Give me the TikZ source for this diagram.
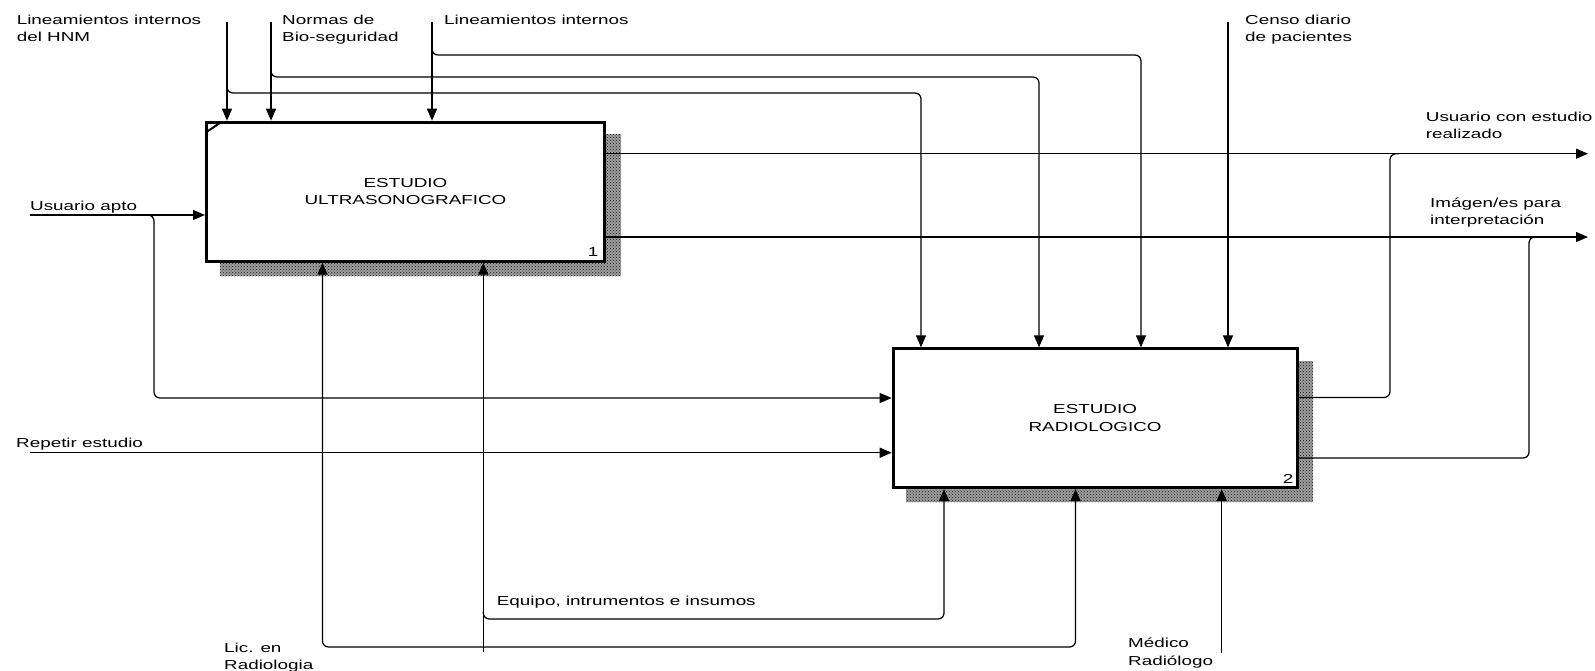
\documentclass[tikz,border=0pt]{standalone}
\usepackage{fontspec}
\setmainfont{Liberation Sans}[FakeStretch=1.45]
\usetikzlibrary{arrows.meta,patterns}
\begin{document}
\begin{tikzpicture}[x=1pt,y=-1pt,
  every node/.style={font=\fontsize{13}{17.5}\selectfont, inner sep=0pt},
  lbl/.style={anchor=north west, align=left},
  proc/.style={draw, line width=3pt, fill=white, rectangle, align=center},
  shadowbase/.style={fill=black!38},
  shadowfill/.style={pattern=crosshatch dots, pattern color=black!90},
  conn/.style={line width=1.25pt, rounded corners=6pt},
  tip/.style={-{Triangle[length=12pt,width=10pt]}},
  tips/.style={{Triangle[length=12pt,width=10pt]}-{Triangle[length=12pt,width=10pt]}}
]
\useasboundingbox (0,0) rectangle (1595,670);

% shadows
\fill[shadowbase] (220,134) rectangle (621,276);
\fill[shadowfill] (220,134) rectangle (621,276);
\fill[shadowbase] (906,361) rectangle (1313,502);
\fill[shadowfill] (906,361) rectangle (1313,502);

% boxes
\node[proc, minimum width=398pt, minimum height=139pt] (b1) at (405.5,191.7) {ESTUDIO\\ULTRASONOGRAFICO};
\node[proc, minimum width=403.8pt, minimum height=138.7pt] (b2) at (1095.1,418.2) {ESTUDIO\\RADIOLOGICO};
\node (n1) at (593,252.5) {1};
\node (n2) at (1288,479) {2};
\draw[line width=2pt] ([shift={(2,11)}]b1.north west) -- ([shift={(16,1.5)}]b1.north west);

% coordinates
\coordinate (c1) at (227,22);
\coordinate (c2) at (271,22);
\coordinate (c3) at (432,22);
\coordinate (c4) at (1228,22);
\coordinate (s1) at (227,85);
\coordinate (s2) at (271,69);
\coordinate (s3) at (432,47);
\coordinate (k1) at (921,93);
\coordinate (k2) at (1039,77);
\coordinate (k3) at (1141,55);
\coordinate (o1) at (1588,153.7);
\coordinate (o2) at (1588,237);
\coordinate (j1) at (1390,397.5);
\coordinate (j2) at (1529,458);
\coordinate (i1) at (30,215);
\coordinate (i1b) at (146,215);
\coordinate (jb) at (154,398);
\coordinate (i2) at (30,452.7);
\coordinate (m1) at (322.5,647);
\coordinate (m1r) at (1075.5,647);
\coordinate (m2) at (483.3,652);
\coordinate (m2b) at (483.3,612);
\coordinate (k4) at (944,619);
\coordinate (m3) at (1221.7,653);

% controls
\draw[conn,tip] (c1) -- (c1 |- b1.north);
\draw[conn,tip] (c2) -- (c2 |- b1.north);
\draw[conn,tip] (c3) -- (c3 |- b1.north);
\draw[conn,tip] (s1) -- (c1 |- k1) -- (k1) -- (k1 |- b2.north);
\draw[conn,tip] (s2) -- (c2 |- k2) -- (k2) -- (k2 |- b2.north);
\draw[conn,tip] (s3) -- (c3 |- k3) -- (k3) -- (k3 |- b2.north);
\draw[conn,tip] (c4) -- (c4 |- b2.north);

% outputs
\draw[conn,tip] (b1.east |- o1) -- (o1);
\draw[conn,tip] (b1.east |- o2) -- (o2);
\draw[conn] (b2.east |- j1) -- (j1) -- (j1 |- o1) -- ++(9,0);
\draw[conn] (b2.east |- j2) -- (j2) -- (j2 |- o2) -- ++(9,0);

% inputs
\draw[conn,tip] (i1) -- (i1 -| b1.west);
\draw[conn,tip] (i1b) -- (jb |- i1) -- (jb) -- (jb -| b2.west);
\draw[conn,tip] (i2) -- (i2 -| b2.west);

% mechanisms
\draw[conn,tips] (m1 |- b1.south) -- (m1) -- (m1r) -- (m1r |- b2.south);
\draw[conn,tip] (m2) -- (m2 |- b1.south);
\draw[conn,tip] (m2b) -- (m2 |- k4) -- (k4) -- (k4 |- b2.south);
\draw[conn,tip] (m3) -- (m3 |- b2.south);

% labels
\node[lbl] (l1) at (16.6,14.7) {Lineamientos internos\\del HNM};
\node[lbl] (l2) at (282,14.7) {Normas de\\Bio-seguridad};
\node[lbl] (l3) at (444,14.7) {Lineamientos internos};
\node[lbl] (l4) at (1245,14.7) {Censo diario\\de pacientes};
\node[lbl] (l5) at (1425.7,111.5) {Usuario con estudio\\realizado};
\node[lbl] (l6) at (1430,197.5) {Imágen/es para\\interpretación};
\node[lbl] (l7) at (30,200.5) {Usuario apto};
\node[lbl] (l8) at (16,438) {Repetir estudio};
\node[lbl] (l9) at (496.7,595.5) {Equipo, intrumentos e insumos};
\node[lbl] (l10) at (224,642.5) {Lic. en\\Radiologia};
\node[lbl] (l11) at (1128,638) {Médico\\Radiólogo};
\end{tikzpicture}
\end{document}
